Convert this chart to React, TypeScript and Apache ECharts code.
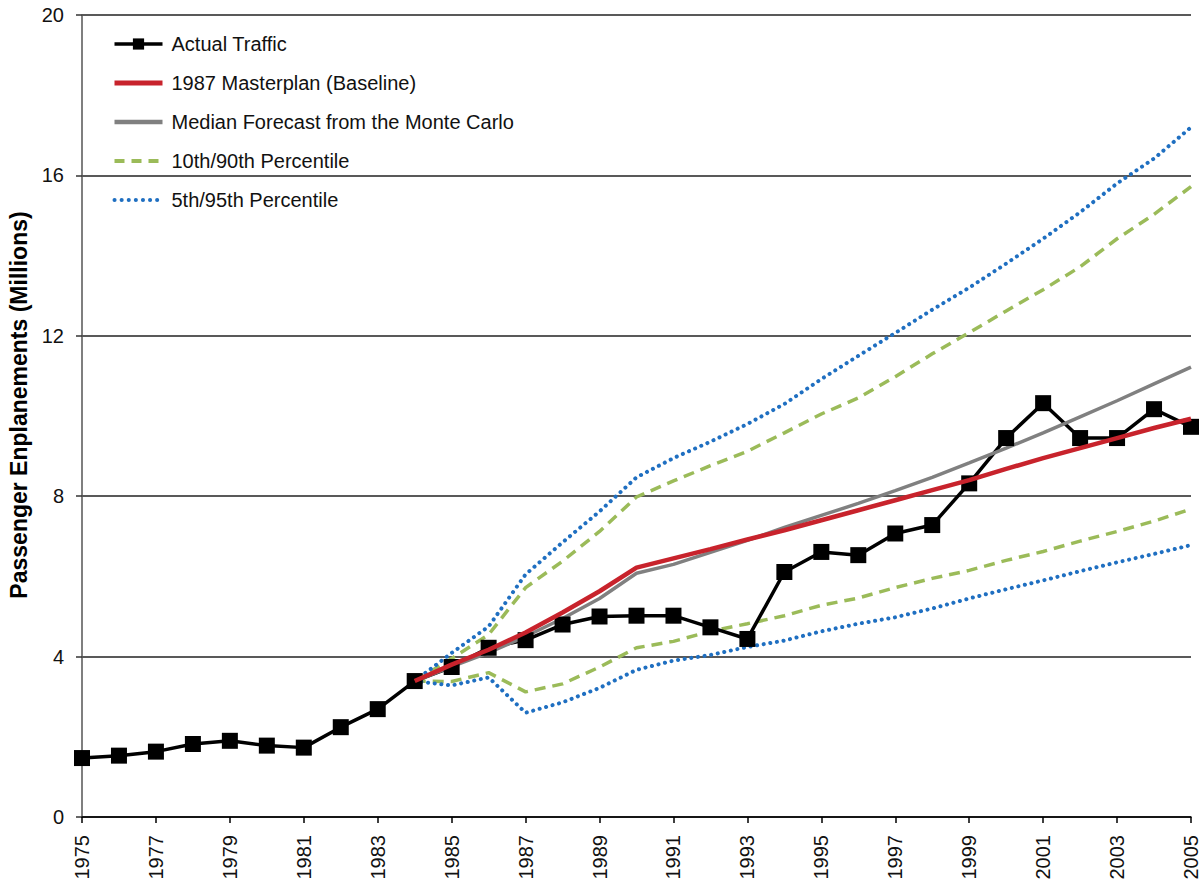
import React, { useEffect, useRef } from "react";
import * as echarts from "echarts";

const years = [
  "1975","1976","1977","1978","1979","1980","1981","1982","1983","1984",
  "1985","1986","1987","1988","1989","1990","1991","1992","1993","1994",
  "1995","1996","1997","1998","1999","2000","2001","2002","2003","2004","2005",
];
const actualTraffic = [
  1.47, 1.53, 1.63, 1.82, 1.9, 1.78, 1.73, 2.24, 2.69, 3.39,
  3.74, 4.22, 4.41, 4.8, 5.0, 5.02, 5.02, 4.73, 4.44, 6.11,
  6.61, 6.53, 7.07, 7.28, 8.32, 9.45, 10.32, 9.45, 9.45, 10.17, 9.73,
];
// forecasts start in 1984
const forecastStartIndex = 9;
const masterplan = [3.39, 3.8, 4.17, 4.6, 5.1, 5.63, 6.22, 6.45, 6.68, 6.92, 7.15, 7.4, 7.65, 7.9, 8.15, 8.4, 8.68, 8.95, 9.2, 9.45, 9.7, 9.93];
const median = [3.39, 3.75, 4.1, 4.5, 4.95, 5.45, 6.08, 6.3, 6.6, 6.9, 7.22, 7.52, 7.82, 8.14, 8.47, 8.83, 9.2, 9.58, 9.98, 10.38, 10.8, 11.22];
const p90 = [3.39, 3.95, 4.55, 5.72, 6.38, 7.12, 7.98, 8.38, 8.76, 9.12, 9.58, 10.05, 10.45, 10.98, 11.55, 12.08, 12.62, 13.15, 13.72, 14.42, 15.03, 15.72];
const p10 = [3.39, 3.38, 3.6, 3.12, 3.32, 3.74, 4.22, 4.38, 4.63, 4.82, 5.02, 5.28, 5.46, 5.72, 5.95, 6.15, 6.4, 6.62, 6.88, 7.12, 7.38, 7.68];
const p95 = [3.39, 4.09, 4.75, 6.05, 6.85, 7.62, 8.47, 8.95, 9.36, 9.8, 10.3, 10.92, 11.5, 12.07, 12.65, 13.2, 13.8, 14.42, 15.08, 15.8, 16.42, 17.2];
const p5 = [3.39, 3.28, 3.48, 2.6, 2.86, 3.22, 3.67, 3.9, 4.04, 4.24, 4.4, 4.63, 4.82, 4.98, 5.2, 5.45, 5.68, 5.9, 6.13, 6.35, 6.56, 6.78];
const yTicks = { min: 0, max: 20, interval: 4 };
const yTitle = "Passenger Enplanements (Millions)";

const pad = (arr: number[]) =>
  years.map((_, i) => (i < forecastStartIndex ? null : arr[i - forecastStartIndex]));

const FONT = "'Liberation Sans', Arial, Helvetica, sans-serif";

export default function App() {
  const ref = useRef<HTMLDivElement>(null);
  useEffect(() => {
    if (!ref.current) return;
    const chart = echarts.init(ref.current, undefined, { renderer: "svg" });
    const green = "#9bbb59";
    const blue = "#1f6fc1";
    const dashed = { color: green, width: 3.5, type: [11, 7] as any };
    const dotted = { color: blue, width: 4, type: [0.1, 6.6] as any, cap: "round" as any };
    const noMarker = { opacity: 0 };
    chart.setOption({
      animation: false,
      backgroundColor: "#ffffff",
      textStyle: { fontFamily: FONT },
      grid: { left: 82, right: 10, top: 15, bottom: 65, containLabel: false, outerBoundsMode: "none" },
      graphic: [
        {
          type: "text",
          x: 19,
          y: 405,
          rotation: Math.PI / 2,
          style: {
            text: yTitle,
            font: `bold 23px ${FONT}`,
            fill: "#000",
            align: "center",
            verticalAlign: "middle",
          },
        },
      ],
      legend: {
        orient: "vertical",
        left: 107,
        top: 29,
        itemWidth: 48,
        itemHeight: 14,
        itemGap: 19,
        textStyle: { fontSize: 20, color: "#111", fontFamily: FONT, padding: [0, 0, 0, 4] },
        data: [
          { name: "Actual Traffic", lineStyle: { width: 3.5 } },
          { name: "1987 Masterplan (Baseline)", itemStyle: noMarker, lineStyle: { width: 5 } },
          { name: "Median Forecast from the Monte Carlo", itemStyle: noMarker, lineStyle: { width: 4.5 } },
          { name: "10th/90th Percentile", itemStyle: noMarker, lineStyle: { width: 4, type: [10, 7] } },
          { name: "5th/95th Percentile", itemStyle: noMarker, lineStyle: { width: 4, type: [0.1, 7], cap: "round" } },
        ],
      },
      xAxis: {
        type: "category",
        data: years,
        boundaryGap: false,
        axisLine: { lineStyle: { color: "#000", width: 1.5 } },
        axisTick: { show: true, interval: 1, length: 6, lineStyle: { color: "#000", width: 1.5 } },
        axisLabel: {
          interval: 1,
          rotate: 90,
          fontSize: 20,
          color: "#111",
          fontFamily: FONT,
          margin: 18,
        },
        splitLine: { show: false },
      },
      yAxis: {
        type: "value",
        min: yTicks.min,
        max: yTicks.max,
        interval: yTicks.interval,
        axisLine: { show: true, lineStyle: { color: "#555", width: 1.5 } },
        axisTick: { show: true, length: 6, lineStyle: { color: "#333", width: 1.5 } },
        axisLabel: { fontSize: 20, color: "#111", fontFamily: FONT, margin: 18 },
        splitLine: { show: true, lineStyle: { color: "#222", width: 1.5 } },
      },
      series: [
        {
          name: "Actual Traffic",
          type: "line",
          data: actualTraffic,
          symbol: "rect",
          symbolSize: 16,
          showAllSymbol: true,
          lineStyle: { color: "#000", width: 3.5 },
          itemStyle: { color: "#000" },
          z: 3,
        },
        {
          name: "1987 Masterplan (Baseline)",
          type: "line",
          data: pad(masterplan),
          symbol: "none",
          lineStyle: { color: "#c8232c", width: 4.5 },
          itemStyle: { color: "#c8232c" },
          z: 4,
        },
        {
          name: "Median Forecast from the Monte Carlo",
          type: "line",
          data: pad(median),
          symbol: "none",
          lineStyle: { color: "#808080", width: 3.5 },
          itemStyle: { color: "#808080" },
          z: 3,
        },
        {
          name: "10th/90th Percentile",
          type: "line",
          data: pad(p90),
          symbol: "none",
          lineStyle: dashed,
          itemStyle: { color: green },
          z: 2,
        },
        {
          name: "10th/90th Percentile",
          type: "line",
          data: pad(p10),
          symbol: "none",
          lineStyle: dashed,
          itemStyle: { color: green },
          z: 2,
        },
        {
          name: "5th/95th Percentile",
          type: "line",
          data: pad(p95),
          symbol: "none",
          lineStyle: dotted,
          itemStyle: { color: blue },
          z: 2,
        },
        {
          name: "5th/95th Percentile",
          type: "line",
          data: pad(p5),
          symbol: "none",
          lineStyle: dotted,
          itemStyle: { color: blue },
          z: 2,
        },
      ],
    });
    return () => chart.dispose();
  }, []);
  return (
    <div
      ref={ref}
      style={{ position: "fixed", left: 0, top: 0, width: 1201, height: 882, background: "#fff" }}
    />
  );
}
